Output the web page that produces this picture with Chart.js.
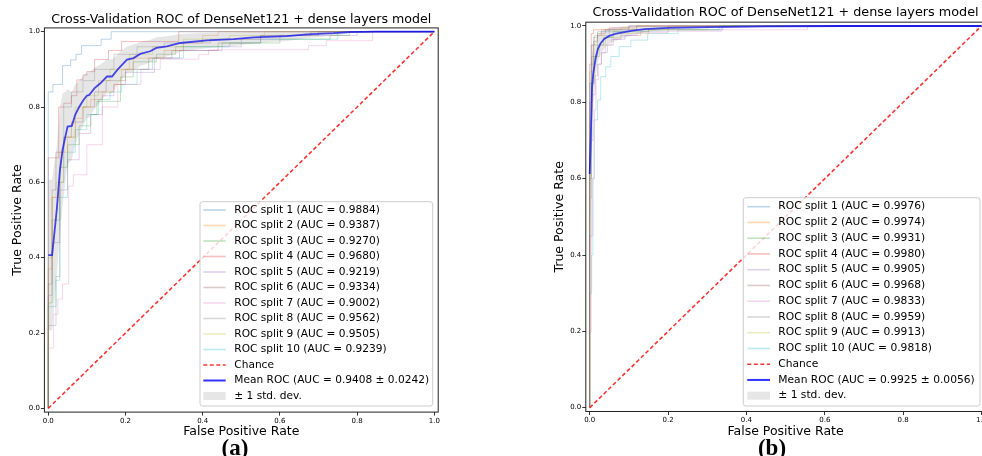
<!DOCTYPE html>
<html>
<head>
<meta charset="utf-8">
<script src="https://cdn.jsdelivr.net/npm/chart.js@4.4.1/dist/chart.umd.min.js"></script>
<style>
    html, body { margin: 0; padding: 0; width: 982px; height: 456px; overflow: hidden; background: #fff; }
    .panel { position: absolute; top: 0; height: 456px; }
    #wrapA { left: 0; width: 491px; }
    #wrapB { left: 491px; width: 520px; }
    .tag { position: absolute; top: 436px; width: 100px; text-align: center; font-family: 'Liberation Serif', serif; font-weight: bold; font-size: 23px; line-height: 1; color: #000; }
</style>
</head>
<body>
<div class="panel" id="wrapA"><canvas id="chartA" width="491" height="456"></canvas></div>
<div class="panel" id="wrapB"><canvas id="chartB" width="520" height="456"></canvas></div>
<div class="tag" style="left:185px">(a)</div>
<div class="tag" style="left:722px">(b)</div>
<script>
// ---- data: panel (a) ----
const aucA = [0.9884, 0.9387, 0.9270, 0.9680, 0.9219, 0.9334, 0.9002, 0.9562, 0.9505, 0.9239];
const meanAucA = 0.9408, stdAucA = 0.0242;

const splitA1 = [[0,0],[0,0.84],[0.012,0.86],[0.037,0.91],[0.058,0.925],[0.072,0.94],[0.086,0.963],[0.137,0.98],[0.163,1.0],[1,1]];
const splitA2 = [[0,0],[0,0.37],[0.01,0.56],[0.03,0.68],[0.05,0.72],[0.07,0.77],[0.09,0.8],[0.11,0.82],[0.14,0.84],[0.17,0.86],[0.19,0.9],[0.22,0.93],[0.3,0.95],[0.35,0.97],[0.4,0.99],[0.44,1.0],[1,1]];
const splitA3 = [[0,0],[0,0.28],[0.01,0.5],[0.03,0.64],[0.05,0.7],[0.08,0.75],[0.11,0.78],[0.126,0.815],[0.187,0.88],[0.22,0.92],[0.28,0.94],[0.33,0.96],[0.45,0.97],[0.6,0.98],[0.73,0.99],[0.78,1.0],[1,1]];
const splitA4 = [[0,0],[0,0.665],[0.027,0.8],[0.04,0.81],[0.06,0.83],[0.074,0.872],[0.09,0.885],[0.1,0.894],[0.12,0.926],[0.156,0.95],[0.19,0.974],[0.338,1.0],[1,1]];
const splitA5 = [[0,0],[0,0.3],[0.01,0.44],[0.03,0.58],[0.05,0.66],[0.08,0.73],[0.11,0.78],[0.14,0.83],[0.17,0.86],[0.2,0.892],[0.275,0.93],[0.34,0.95],[0.45,0.96],[0.5,0.98],[0.6,0.99],[0.8,1.0],[1,1]];
const splitA6 = [[0,0],[0,0.33],[0.01,0.58],[0.02,0.68],[0.04,0.72],[0.06,0.76],[0.09,0.8],[0.12,0.84],[0.15,0.87],[0.2,0.9],[0.26,0.93],[0.32,0.95],[0.44,0.97],[0.55,0.99],[0.68,1.0],[1,1]];
const splitA7 = [[0,0],[0,0.16],[0.014,0.25],[0.025,0.29],[0.037,0.33],[0.053,0.59],[0.065,0.62],[0.1,0.7],[0.14,0.8],[0.18,0.86],[0.24,0.9],[0.29,0.927],[0.39,0.939],[0.415,0.952],[0.674,0.963],[0.72,0.976],[0.84,1.0],[1,1]];
const splitA8 = [[0,0],[0,0.22],[0.02,0.35],[0.03,0.6],[0.04,0.8],[0.06,0.84],[0.09,0.87],[0.12,0.9],[0.17,0.94],[0.23,0.96],[0.3,0.97],[0.42,0.98],[0.55,0.99],[0.7,1.0],[1,1]];
const splitA9 = [[0,0],[0,0.4],[0.01,0.56],[0.02,0.6],[0.04,0.72],[0.07,0.8],[0.1,0.83],[0.13,0.87],[0.16,0.9],[0.21,0.94],[0.27,0.96],[0.35,0.98],[0.47,0.99],[0.56,1.0],[1,1]];
const splitA10 = [[0,0],[0,0.27],[0.02,0.34],[0.03,0.56],[0.05,0.68],[0.07,0.74],[0.1,0.78],[0.13,0.82],[0.16,0.84],[0.19,0.86],[0.23,0.9],[0.27,0.93],[0.35,0.96],[0.47,0.97],[0.55,0.98],[0.75,1.0],[1,1]];

const meanFprA = [0, 0.010, 0.022, 0.030, 0.037, 0.044, 0.050, 0.061, 0.070, 0.080, 0.092, 0.100, 0.106, 0.120, 0.135, 0.152, 0.165, 0.180, 0.191, 0.204, 0.221, 0.238, 0.264, 0.280, 0.307, 0.342, 0.411, 0.480, 0.532, 0.618, 0.670, 0.739, 0.780, 0.850, 1.0];
const meanTprA = [0.407, 0.407, 0.527, 0.63, 0.686, 0.72, 0.748, 0.750, 0.78, 0.80, 0.82, 0.83, 0.832, 0.85, 0.863, 0.881, 0.881, 0.90, 0.912, 0.926, 0.93, 0.941, 0.948, 0.957, 0.961, 0.970, 0.977, 0.980, 0.985, 0.988, 0.993, 0.996, 0.999, 1.0, 1.0];
const stdTprA  = [0.2, 0.2, 0.17, 0.17, 0.15, 0.12, 0.10, 0.09, 0.08, 0.07, 0.065, 0.06, 0.06, 0.055, 0.05, 0.045, 0.045, 0.04, 0.04, 0.035, 0.035, 0.032, 0.03, 0.028, 0.027, 0.024, 0.02, 0.018, 0.016, 0.013, 0.01, 0.007, 0.003, 0, 0];

// ---- data: panel (b) ----
const aucB = [0.9976, 0.9974, 0.9931, 0.9980, 0.9905, 0.9968, 0.9833, 0.9959, 0.9913, 0.9818];
const meanAucB = 0.9925, stdAucB = 0.0056;

const splitB1 = [[0,0],[0,0.85],[0.004,0.95],[0.01,0.97],[0.02,0.985],[0.05,0.99],[0.1,1.0],[1,1]];
const splitB2 = [[0,0],[0,0.88],[0.006,0.95],[0.012,0.975],[0.03,0.99],[0.08,0.995],[0.12,1.0],[1,1]];
const splitB3 = [[0,0],[0,0.6],[0.004,0.85],[0.01,0.92],[0.02,0.95],[0.035,0.97],[0.06,0.985],[0.15,0.99],[0.33,1.0],[1,1]];
const splitB4 = [[0,0],[0,0.9],[0.004,0.98],[0.01,0.99],[0.05,0.995],[0.1,1.0],[1,1]];
const splitB5 = [[0,0],[0,0.45],[0.004,0.7],[0.008,0.82],[0.014,0.87],[0.02,0.9],[0.03,0.93],[0.045,0.95],[0.06,0.965],[0.09,0.975],[0.13,0.985],[0.2,0.99],[0.34,1.0],[1,1]];
const splitB6 = [[0,0],[0,0.8],[0.005,0.92],[0.01,0.96],[0.02,0.98],[0.04,0.99],[0.12,1.0],[1,1]];
const splitB7 = [[0,0],[0,0.2],[0.004,0.45],[0.008,0.6],[0.012,0.78],[0.016,0.86],[0.022,0.9],[0.03,0.93],[0.04,0.95],[0.055,0.965],[0.08,0.975],[0.12,0.982],[0.2,0.986],[0.336,0.99],[0.556,1.0],[1,1]];
const splitB8 = [[0,0],[0,0.75],[0.004,0.9],[0.01,0.95],[0.02,0.975],[0.05,0.985],[0.1,0.99],[0.2,1.0],[1,1]];
const splitB9 = [[0,0],[0,0.55],[0.005,0.85],[0.012,0.92],[0.025,0.95],[0.04,0.97],[0.08,0.98],[0.15,0.99],[0.3,1.0],[1,1]];
const splitB10 = [[0,0],[0,0.3],[0.005,0.4],[0.008,0.6],[0.011,0.754],[0.02,0.806],[0.028,0.867],[0.041,0.893],[0.054,0.92],[0.075,0.946],[0.105,0.963],[0.148,0.98],[0.225,0.99],[0.336,1.0],[1,1]];

const meanFprB = [0, 0.003, 0.006, 0.009, 0.012, 0.016, 0.021, 0.028, 0.037, 0.050, 0.065, 0.088, 0.110, 0.140, 0.200, 0.300, 0.450, 0.650, 1.0];
const meanTprB = [0.612, 0.72, 0.84, 0.875, 0.895, 0.92, 0.94, 0.955, 0.966, 0.974, 0.979, 0.984, 0.988, 0.992, 0.995, 0.997, 0.999, 1.0, 1.0];
const stdTprB  = [0.2, 0.15, 0.09, 0.07, 0.06, 0.045, 0.035, 0.03, 0.025, 0.02, 0.018, 0.015, 0.012, 0.008, 0.005, 0.003, 0.001, 0, 0];

// ---- shared ----
const chanceFpr = [0, 1];
const chanceTpr = [0, 1];
const tickValues = [0, 0.2, 0.4, 0.6, 0.8, 1.0];
const tickLabels = ['0.0', '0.2', '0.4', '0.6', '0.8', '1.0'];
const titleText = 'Cross-Validation ROC of DenseNet121 + dense layers model';

const tab10 = ['31,119,180', '255,127,14', '44,160,44', '214,39,40', '148,103,189',
               '140,86,75', '227,119,194', '127,127,127', '188,189,34', '23,190,207'];

Chart.defaults.font.family = '"DejaVu Sans", sans-serif';
Chart.defaults.color = '#000';

// frame on all four sides (matplotlib spines)
const frame = {
    id: 'frame',
    afterDatasetsDraw(chart) {
        const { ctx, chartArea: a } = chart;
        ctx.save();
        ctx.strokeStyle = '#222';
        ctx.lineWidth = 1;
        ctx.strokeRect(a.left, a.top, a.right - a.left, a.bottom - a.top);
        ctx.restore();
    }
};

// legend boxed in the lower right of the plot area
const rocLegend = {
    id: 'rocLegend',
    afterDraw(chart, args, o) {
        const { ctx, chartArea: a } = chart;
        const right = a.right - o.insetRight, bottom = a.bottom - o.insetBottom;
        const left = right - o.width, top = bottom - o.height;
        ctx.save();
        ctx.beginPath();
        ctx.roundRect(left, top, o.width, o.height, 2.5);
        ctx.fillStyle = 'rgba(255,255,255,0.8)';
        ctx.fill();
        ctx.strokeStyle = '#cccccc';
        ctx.lineWidth = 1;
        ctx.stroke();
        ctx.font = o.fontSize + 'px "DejaVu Sans"';
        ctx.textBaseline = 'middle';
        const items = chart.data.datasets.filter(d => !d.hideInLegend);
        items.forEach((d, i) => {
            const y = top + o.firstRow + i * o.rowH;
            const x0 = left + o.handleX0, x1 = left + o.handleX1;
            if (d.fill) {
                ctx.fillStyle = d.backgroundColor;
                ctx.fillRect(x0, y - 4, x1 - x0, 8);
            } else {
                ctx.beginPath();
                ctx.setLineDash(d.borderDash || []);
                ctx.strokeStyle = d.borderColor;
                ctx.lineWidth = d.legendWidth;
                ctx.moveTo(x0, y);
                ctx.lineTo(x1, y);
                ctx.stroke();
                ctx.setLineDash([]);
            }
            ctx.fillStyle = '#000';
            ctx.fillText(d.label, left + o.textX, y);
        });
        ctx.restore();
    }
};

function pts(xs, ys) {
    return xs.map((x, i) => ({ x: x, y: ys[i] }));
}

function makeRoc(id, splits, aucs, meanFpr, meanTpr, stdTpr, meanAuc, stdAuc, L) {
    const datasets = splits.map((s, i) => ({
        label: `ROC split ${i + 1} (AUC = ${aucs[i].toFixed(4)})`,
        data: s.map(p => ({ x: p[0], y: p[1] })),
        borderColor: `rgba(${tab10[i]},0.3)`,
        borderWidth: 1, legendWidth: 1.6,
        stepped: 'before', pointRadius: 0, fill: false, order: 3
    }));
    datasets.push({
        label: 'Chance', data: pts(chanceFpr, chanceTpr),
        borderColor: 'rgba(255,0,0,0.8)', borderDash: [4, 2.5], borderWidth: 1.6, legendWidth: 1.6,
        pointRadius: 0, fill: false, order: 2
    });
    datasets.push({
        label: `Mean ROC (AUC = ${meanAuc.toFixed(4)} \u00b1 ${stdAuc.toFixed(4)})`,
        data: pts(meanFpr, meanTpr),
        borderColor: 'rgba(0,0,255,0.8)', borderWidth: 1.8, legendWidth: 2,
        pointRadius: 0, fill: false, order: 1
    });
    const lower = meanTpr.map((t, i) => Math.max(t - stdTpr[i], 0));
    const upper = meanTpr.map((t, i) => Math.min(t + stdTpr[i], 1));
    datasets.push({
        label: 'lower', hideInLegend: true, data: pts(meanFpr, lower),
        borderWidth: 0, pointRadius: 0, fill: false, order: 0
    });
    datasets.push({
        label: '\u00b1 1 std. dev.', data: pts(meanFpr, upper),
        borderWidth: 0, borderColor: 'rgba(0,0,0,0)', pointRadius: 0,
        fill: '-1', backgroundColor: 'rgba(128,128,128,0.2)', order: 0
    });

    const axis = (titleTxt, titlePad, fitFn) => ({
        type: 'linear', min: -0.01, max: 1.01,
        afterBuildTicks: s => { s.ticks = tickValues.map(v => ({ value: v })); },
        afterFit: fitFn,
        ticks: {
            callback: (v, i) => tickLabels[i],
            font: { size: 7 }, color: '#000', padding: 1,
            autoSkip: false, maxRotation: 0
        },
        grid: { drawOnChartArea: false, drawTicks: true, tickLength: 3.5, tickColor: '#000', tickWidth: 0.8 },
        border: { display: false },
        title: { display: true, text: titleTxt, font: { size: 12.5 }, color: '#000', padding: titlePad }
    });

    return new Chart(document.getElementById(id), {
        type: 'line',
        data: { datasets: datasets },
        options: {
            responsive: false,
            animation: false,
            devicePixelRatio: 1,
            layout: { padding: { left: 0, top: 0, right: L.padRight, bottom: 0 } },
            plugins: {
                legend: { display: false },
                tooltip: { enabled: false },
                title: {
                    display: true, text: titleText, fullSize: false,
                    font: { size: L.titleSize, weight: 'normal' }, color: '#000',
                    padding: { top: L.titleTop, bottom: L.titleBottom }
                },
                rocLegend: L.legend
            },
            scales: {
                x: axis('False Positive Rate', { top: 0, bottom: 16.5 }, s => { s.height = L.xAxisH; }),
                y: axis('True Positive Rate', { top: L.yTitlePad, bottom: 0 }, s => { s.width = L.yAxisW; })
            }
        },
        plugins: [frame, rocLegend]
    });
}

makeRoc('chartA',
    [splitA1, splitA2, splitA3, splitA4, splitA5, splitA6, splitA7, splitA8, splitA9, splitA10],
    aucA, meanFprA, meanTprA, stdTprA, meanAucA, stdAucA,
    {
        padRight: 491 - 438.2, yAxisW: 44.4, xAxisH: 456 - 412.1,
        titleSize: 12.6, titleTop: 11.9, titleBottom: 0.9, yTitlePad: 10.5,
        legend: { insetRight: 5.5, insetBottom: 6.1, width: 232.7, height: 204.3,
                  firstRow: 8.3, rowH: 15.5, handleX0: 3.3, handleX1: 25.7, textX: 34.3, fontSize: 10.6 }
    });

makeRoc('chartB',
    [splitB1, splitB2, splitB3, splitB4, splitB5, splitB6, splitB7, splitB8, splitB9, splitB10],
    aucB, meanFprB, meanTprB, stdTprB, meanAucB, stdAucB,
    {
        padRight: 520 - (985.4 - 491), yAxisW: 585.8 - 491, xAxisH: 456 - 411.5,
        titleSize: 12.8, titleTop: 5.4, titleBottom: 1.4, yTitlePad: 60.8,
        legend: { insetRight: 5.4, insetBottom: 5.5, width: 236.7, height: 208.3,
                  firstRow: 9, rowH: 15.75, handleX0: 4, handleX1: 26.7, textX: 35, fontSize: 10.7 }
    });
</script>
</body>
</html>
